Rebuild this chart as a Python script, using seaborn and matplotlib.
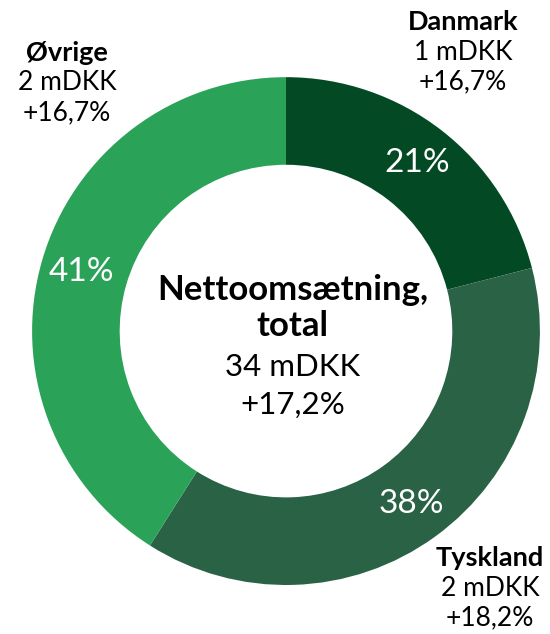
import matplotlib
matplotlib.use("Agg")
import matplotlib.pyplot as plt
import seaborn as sns

# Data
regions = ["Danmark", "Tyskland", "Øvrige"]
shares = [21, 38, 41]
amounts = ["1 mDKK", "2 mDKK", "2 mDKK"]
growth = ["+16,7%", "+18,2%", "+16,7%"]
colors = ["#034a24", "#2a6246", "#2aa359"]

total_title = ["Nettoomsætning,", "total"]
total_amount = "34 mDKK"
total_growth = "+17,2%"

sns.set_theme(style="white")
plt.rcParams["font.family"] = ["Lato", "DejaVu Sans"]

fig = plt.figure(figsize=(5.5, 6.34), dpi=100)
ax = fig.add_axes([0.0582, 0.0773, 0.9236, 0.801])

wedges, texts, autotexts = ax.pie(
    shares, colors=colors, startangle=90, counterclock=False,
    radius=1.0, wedgeprops=dict(width=0.345, linewidth=0),
    autopct=lambda p: f"{p:.0f}%", pctdistance=0.84,
    textprops=dict(color="white", fontsize=24),
)
ax.set_xlim(-1, 1)
ax.set_ylim(-1, 1)
ax.set_aspect("equal")
ax.axis("off")

# Outer region labels
label_pos = [(0.697, 1.217), (0.803, -0.894), (-0.862, 1.095)]
line_gap = 0.118
for (x, y), name, amt, gr in zip(label_pos, regions, amounts, growth):
    ax.text(x, y, name, ha="center", va="center", fontsize=19.5,
            fontweight="bold", color="black", clip_on=False)
    ax.text(x, y - line_gap, amt, ha="center", va="center", fontsize=19,
            color="black", clip_on=False)
    ax.text(x, y - 2 * line_gap, gr, ha="center", va="center", fontsize=19,
            color="black", clip_on=False)

# Center text
cx = 0.025
ax.text(cx, 0.16, total_title[0], ha="center", va="center", fontsize=25,
        fontweight="bold", color="black")
ax.text(cx, 0.02, total_title[1], ha="center", va="center", fontsize=25,
        fontweight="bold", color="black")
ax.text(cx, -0.14, total_amount, ha="center", va="center", fontsize=22.5,
        color="black")
ax.text(cx, -0.29, total_growth, ha="center", va="center", fontsize=22.5,
        color="black")

fig.savefig("out.png", dpi=100, facecolor="white")
